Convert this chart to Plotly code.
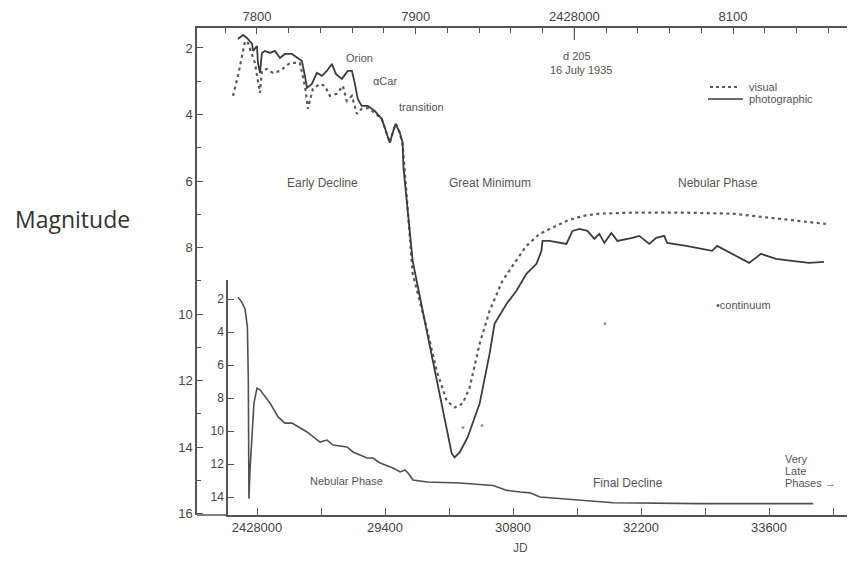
import plotly.graph_objects as go

# ---------------- data ----------------
# Upper light curve (top JD axis, outer magnitude axis)
phot_jd = [2427788.0, 2427791.2, 2427793.7, 2427796.9, 2427797.5, 2427800.0, 2427800.6, 2427801.9,
           2427803.1, 2427805.0, 2427808.2, 2427811.3, 2427814.5, 2427817.6, 2427822.0, 2427825.8,
           2427828.3, 2427830.2, 2427831.5, 2427834.6, 2427837.7, 2427840.9, 2427844.0, 2427847.2,
           2427849.7, 2427853.5, 2427857.2, 2427859.8, 2427861.6, 2427863.5, 2427866.0, 2427869.8,
           2427874.2, 2427878.6, 2427881.8, 2427883.7, 2427885.5, 2427887.4, 2427890.0, 2427891.8,
           2427892.3, 2427894.3, 2427896.2, 2427898.1, 2427904.4, 2427910.7, 2427917.0, 2427922.7,
           2427924.5, 2427927.7, 2427932.7, 2427940.3, 2427946.6, 2427949.7, 2427957.3, 2427963.5,
           2427969.8, 2427976.1, 2427979.3, 2427979.9, 2427984.3, 2427995.0, 2427998.8, 2428003.2,
           2428008.2, 2428012.6, 2428015.7, 2428018.9, 2428023.3, 2428027.1, 2428036.5, 2428040.9,
           2428047.2, 2428051.6, 2428056.6, 2428058.5, 2428070.5, 2428086.8, 2428090.0, 2428099.4,
           2428110.1, 2428117.6, 2428127.1, 2428137.1, 2428147.8, 2428157.3]
phot_mag = [1.73, 1.61, 1.70, 1.88, 2.09, 1.94, 2.45, 2.75,
            2.15, 2.09, 2.15, 2.09, 2.30, 2.18, 2.18, 2.30,
            2.39, 2.84, 3.20, 3.08, 2.75, 2.84, 2.69, 2.48,
            2.78, 2.93, 2.69, 2.69, 3.05, 3.53, 3.74, 3.74,
            3.89, 4.13, 4.55, 4.85, 4.55, 4.28, 4.55, 4.85,
            5.60, 6.59, 7.59, 8.40, 9.90, 11.40, 12.90, 14.19,
            14.31, 14.16, 13.71, 12.69, 11.19, 10.29, 9.69, 9.30,
            8.79, 8.49, 8.10, 7.80, 7.80, 7.89, 7.50, 7.44,
            7.50, 7.74, 7.59, 7.86, 7.56, 7.80, 7.71, 7.65,
            7.89, 7.71, 7.65, 7.86, 7.95, 8.10, 7.95, 8.19,
            8.46, 8.19, 8.34, 8.40, 8.46, 8.43]

vis_jd = [2427784.9, 2427788.0, 2427790.6, 2427792.5, 2427794.3, 2427796.9, 2427798.7, 2427800.6,
          2427801.9, 2427803.1, 2427806.3, 2427810.0, 2427814.5, 2427820.8, 2427827.0, 2427830.2,
          2427832.1, 2427835.2, 2427839.6, 2427842.8, 2427845.9, 2427850.3, 2427854.1, 2427856.6,
          2427859.8, 2427862.9, 2427866.0, 2427869.8, 2427874.2, 2427878.6, 2427881.8, 2427883.7,
          2427885.5, 2427887.4, 2427890.0, 2427891.8, 2427893.1, 2427895.0, 2427898.1, 2427902.5,
          2427906.9, 2427913.2, 2427919.5, 2427924.5, 2427929.6, 2427934.0, 2427940.3, 2427946.6,
          2427954.7, 2427962.3, 2427969.8, 2427978.0, 2427986.2, 2427995.0, 2428005.1, 2428015.7,
          2428036.5, 2428068.0, 2428099.4, 2428130.9, 2428158.5]
vis_mag = [3.44, 2.84, 2.24, 1.79, 1.85, 2.24, 2.45, 2.99,
           3.35, 2.69, 2.63, 2.75, 2.69, 2.45, 2.45, 3.14,
           3.83, 3.23, 3.08, 3.14, 3.44, 3.38, 3.14, 3.59,
           3.44, 3.98, 3.83, 3.80, 3.95, 4.13, 4.55, 4.85,
           4.55, 4.28, 4.55, 4.94, 5.69, 6.89, 8.79, 9.60,
           10.41, 11.70, 12.60, 12.81, 12.69, 12.21, 10.89, 9.90,
           9.00, 8.46, 7.95, 7.59, 7.41, 7.20, 7.05, 6.98,
           6.95, 6.95, 6.98, 7.14, 7.29]

cont_jd = [2427929.8, 2427941.8, 2428019.3]
cont_mag = [13.41, 13.35, 10.29]

# Lower long-term light curve (bottom JD axis, inner magnitude axis)
late_jd = [2427792, 2427835, 2427869, 2427895, 2427905, 2427912, 2427923, 2427967,
           2428000, 2428033, 2428142, 2428230, 2428306, 2428383, 2428547, 2428689,
           2428766, 2428831, 2428984, 2429050, 2429203, 2429269, 2429346, 2429488,
           2429565, 2429619, 2429652, 2429707, 2429860, 2430221, 2430582, 2430735,
           2430877, 2430987, 2431096, 2431315, 2431534, 2431895, 2432846, 2434083]
late_mag = [1.9, 2.2, 2.6, 3.7, 6.9, 14.1, 12.4, 8.3,
            7.4, 7.5, 8.3, 9.15, 9.52, 9.52, 10.06, 10.67,
            10.55, 10.85, 10.97, 11.27, 11.64, 11.64, 11.94, 12.24,
            12.48, 12.36, 12.55, 12.97, 13.09, 13.15, 13.3, 13.6,
            13.7, 13.75, 14.0, 14.1, 14.2, 14.35, 14.4, 14.4]

top_tick_vals = [2427800, 2427900, 2428000, 2428100]
top_tick_text = ["7800", "7900", "2428000", "8100"]
bottom_tick_vals = [2428000, 2428700, 2429400, 2430100, 2430800, 2431500, 2432200, 2432900, 2433600, 2434300]
bottom_tick_text = ["2428000", "", "29400", "", "30800", "", "32200", "", "33600", ""]
outer_tick_vals = [2, 4, 6, 8, 10, 12, 14, 16]
inner_tick_vals = [2, 4, 6, 8, 10, 12, 14]

# ---------------- layout helpers ----------------
W, H = 849, 566
L, R, T, B = 197, 847, 28, 515
INNER_X, INNER_TOP = 228, 280
def px(x):
    return (x - L) / (R - L)
def py(y):
    return (B - y) / (B - T)

INK = "#3c3c3c"
TXT = "#555555"
FONT = "Liberation Sans"
AXC = "#555555"

fig = go.Figure()

# main (early) curves: top axis x, outer axis y
fig.add_trace(go.Scatter(x=vis_jd, y=vis_mag, xaxis="x", yaxis="y", mode="lines",
                         line=dict(color="#5a5a5a", width=2.2, dash="3px,3.5px"),
                         showlegend=False, hoverinfo="skip"))
fig.add_trace(go.Scatter(x=phot_jd, y=phot_mag, xaxis="x", yaxis="y", mode="lines",
                         line=dict(color=INK, width=1.8), showlegend=False, hoverinfo="skip"))
fig.add_trace(go.Scatter(x=cont_jd, y=cont_mag, xaxis="x", yaxis="y", mode="markers",
                         marker=dict(color="#999999", size=3), showlegend=False, hoverinfo="skip"))
# long-term curve: bottom axis x2, inner axis y2
fig.add_trace(go.Scatter(x=late_jd, y=late_mag, xaxis="x2", yaxis="y2", mode="lines",
                         line=dict(color="#505050", width=1.6), showlegend=False, hoverinfo="skip"))

tick_font = dict(family=FONT, size=13, color="#444444")
minor_top = [2427760 + 20 * i for i in range(21)]

# bottom axis: 2428000 at x=257, 700 days per 64 px
bot_scale = 700 / 64.0
bot_range = [2428000 + (INNER_X - 257) * bot_scale, 2428000 + (R - 257) * bot_scale]
# inner magnitude axis: 16.5 px per magnitude, mag 2 at y=299
inner_range = [2 + (B - 299) / 16.5, 2 - (299 - INNER_TOP) / 16.5]

fig.update_layout(
    width=W, height=H,
    margin=dict(l=L, r=W - R, t=T, b=H - B),
    paper_bgcolor="white", plot_bgcolor="rgba(0,0,0,0)",
    xaxis=dict(range=[2427762.2, 2428171.8], tickmode="array", tickvals=top_tick_vals,
               ticktext=top_tick_text, ticks="inside", ticklen=6, tickcolor=AXC,
               tickfont=tick_font, showgrid=False, zeroline=False,
               side="top", anchor="y", domain=[0, 1],
               showline=True, linecolor=AXC, linewidth=1.5,
               minor=dict(tickvals=minor_top, ticklen=5, ticks="inside", tickcolor=AXC)),
    yaxis=dict(range=[16.04, 1.40], tickmode="array", tickvals=outer_tick_vals,
               ticks="inside", ticklen=6, tickcolor=AXC, tickfont=tick_font,
               showgrid=False, zeroline=False, anchor="x", domain=[0, 1],
               showline=True, linecolor=AXC, linewidth=1.5,
               minor=dict(tickvals=[3, 5, 7, 9, 11, 13, 15], ticklen=4, ticks="inside",
                          tickcolor=AXC)),
    xaxis2=dict(range=bot_range, tickmode="array", tickvals=bottom_tick_vals,
                ticktext=bottom_tick_text, ticks="inside", ticklen=7, tickcolor=AXC,
                tickfont=tick_font, showgrid=False, zeroline=False,
                side="bottom", anchor="y2", domain=[px(INNER_X), 1],
                showline=True, linecolor=AXC, linewidth=1.5),
    yaxis2=dict(range=inner_range, tickmode="array", tickvals=inner_tick_vals,
                ticks="inside", ticklen=6, tickcolor=AXC,
                tickfont=dict(family=FONT, size=12, color="#444444"),
                showgrid=False, zeroline=False, anchor="x2", side="left",
                domain=[0, py(INNER_TOP)],
                showline=True, linecolor=AXC, linewidth=1.5),
)

# bottom frame segment between outer and inner axes
fig.add_shape(type="line", xref="paper", yref="paper", x0=0, x1=px(INNER_X), y0=0, y1=0,
              line=dict(color=AXC, width=1.5))
# longer marker tick at 2428000 (day 205) on the top axis
fig.add_shape(type="line", xref="x", yref="paper", x0=2428000, x1=2428000, y0=1, y1=py(40),
              line=dict(color=AXC, width=1.2))

# legend samples
fig.add_shape(type="line", xref="paper", yref="paper", x0=px(710), x1=px(740), y0=py(87), y1=py(87),
              line=dict(color="#5a5a5a", width=2, dash="3px,3px"))
fig.add_shape(type="line", xref="paper", yref="paper", x0=px(708), x1=px(743), y0=py(99), y1=py(99),
              line=dict(color=INK, width=1.6))

labels = [
    ("Orion", 359, 58, 11, "center"),
    ("\u03b1Car", 385, 81, 11, "center"),
    ("transition", 421, 107, 11, "center"),
    ("d 205", 577, 56, 11, "center"),
    ("16 July 1935", 581, 70, 11, "center"),
    ("visual", 747, 87, 11, "left"),
    ("photographic", 747, 99, 11, "left"),
    ("Early Decline", 322, 183, 12, "center"),
    ("Great Minimum", 490, 183, 12, "center"),
    ("Nebular Phase", 718, 183, 12, "center"),
    ("\u2022continuum", 714, 305, 11, "left"),
    ("Nebular Phase", 346, 481, 11, "center"),
    ("Final Decline", 628, 483, 12, "center"),
    ("Very", 783, 459, 11, "left"),
    ("Late", 783, 471, 11, "left"),
    ("Phases \u2192", 783, 483, 11, "left"),
]
for text, x, y, size, anchor in labels:
    fig.add_annotation(text=text, x=px(x), y=py(y), xref="paper", yref="paper", showarrow=False,
                       xanchor=anchor, yanchor="middle",
                       font=dict(family=FONT, size=size, color=TXT))

fig.add_annotation(text="Magnitude", x=px(72), y=py(219), xref="paper", yref="paper",
                   showarrow=False, xanchor="center", yanchor="middle",
                   font=dict(family="Open Sans", size=23, color="#333333"))
fig.add_annotation(text="JD", x=px(520), y=py(548), xref="paper", yref="paper",
                   showarrow=False, xanchor="center", yanchor="middle",
                   font=dict(family=FONT, size=12, color=TXT))

fig.write_html("out.html", config={"displayModeBar": False},
               post_script="document.body.style.margin='0px';")
